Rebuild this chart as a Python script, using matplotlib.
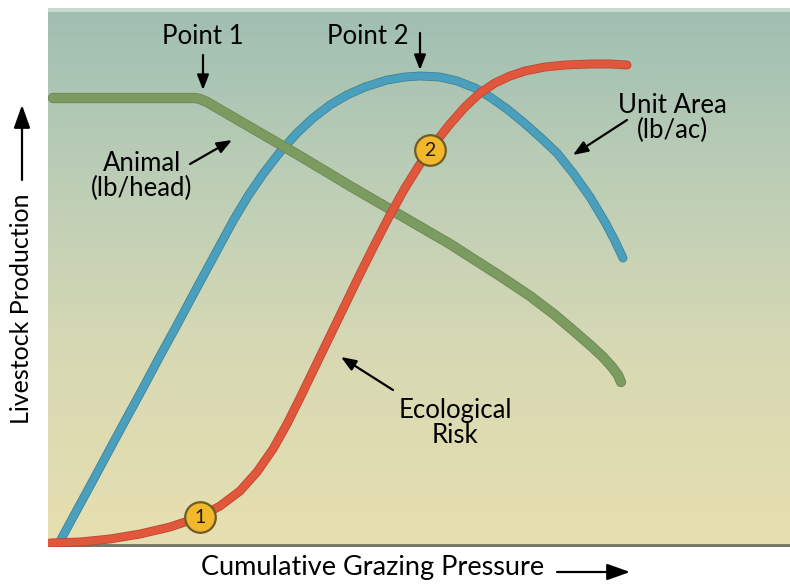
import numpy as np
import matplotlib
matplotlib.use("Agg")
import matplotlib.pyplot as plt
from matplotlib.colors import LinearSegmentedColormap

# ---- data (arbitrary units: x = cumulative grazing pressure, y = relative level) ----
animal_x = [5, 52, 102, 147, 152, 159, 202, 252, 302, 352, 402, 452, 482, 507, 527, 542, 555, 564, 570, 573]
animal_y = [449, 449, 449, 449, 448, 445, 420, 391, 361, 332, 303, 271, 251, 232, 215, 202, 190, 180, 172, 165]

unit_x = [10, 27, 42, 60, 77, 95, 112, 129, 145, 165, 185, 200, 215, 232, 249, 265, 282, 299, 317, 339,
          357, 372, 392, 409, 427, 442, 459, 475, 492, 509, 525, 542, 557, 566, 575]
unit_y = [2, 33.5, 61, 94.5, 126, 159, 191, 222, 252, 289, 326, 351, 373, 395, 414, 429, 442, 452, 460, 467,
          470, 471, 470, 466, 459, 450, 438, 425, 410, 394, 374, 350, 325, 308, 289]

risk_x = [2, 32, 62, 92, 122, 152, 172, 192, 209, 225, 239, 252, 267, 282, 297, 312, 327, 342, 357, 372,
          387, 402, 417, 432, 447, 462, 477, 497, 517, 542, 562, 579]
risk_y = [4, 5, 8, 13, 20, 30, 41, 56, 75, 98, 123, 149, 180, 211, 242, 273, 303, 332, 359, 383,
          404, 423, 440, 454, 464, 471, 476, 480, 482, 483, 483, 482]

point_labels = ["1", "2"]
point_x = [152, 382]
point_y = [30, 397]

FONT = ["Lato", "DejaVu Sans"]
plt.rcParams["font.family"] = FONT

W, H = 790, 586
fig = plt.figure(figsize=(W / 100, H / 100), dpi=100)
L, R, B, T = 48, 790, 547, 8
ax = fig.add_axes([L / W, (H - B) / H, (R - L) / W, (B - T) / H])
ax.set_xlim(0, R - L)
ax.set_ylim(0, B - T)
ax.axis("off")

# background gradient
cmap = LinearSegmentedColormap.from_list(
    "bg", [(0.0, "#e7dfb0"), (0.35, "#d8d9b3"), (0.65, "#bfcfb6"), (1.0, "#9fbfb2")])
grad = np.linspace(0, 1, 256).reshape(-1, 1)
ax.imshow(grad, extent=[0, R - L, 0, B - T], origin="lower", aspect="auto", cmap=cmap, zorder=0)
ax.axhline(1, color="#74786a", lw=3.5, zorder=1)
ax.axhline(B - T - 2, color="#c6dad0", lw=3, zorder=1)


def curve(x, y, color, edge, lw, z):
    ax.plot(x, y, color=edge, lw=lw + 1.2, solid_capstyle="round", solid_joinstyle="round", zorder=z)
    ax.plot(x, y, color=color, lw=lw, solid_capstyle="round", solid_joinstyle="round", zorder=z + 0.1)


curve(unit_x, unit_y, "#4a9fbd", "#3f8399", 5.2, 3)
curve(animal_x, animal_y, "#7c9b61", "#6a8752", 6.2, 4)
curve(risk_x, risk_y, "#e0573b", "#bd4632", 5.2, 5)

for lab, x, y in zip(point_labels, point_x, point_y):
    ax.plot([x], [y], "o", ms=22, mfc="#f2b82c", mec="#6e5c24", mew=1.6, zorder=7)
    ax.text(x, y - 0.5, lab, ha="center", va="center", fontsize=14, color="#1a1a1a", zorder=8)

fs = 18.5
arrow = dict(arrowstyle="-|>,head_length=0.9,head_width=0.35", color="black", lw=1.6,
             shrinkA=0, shrinkB=0)
big_arrow = dict(arrowstyle="-|>,head_length=1.4,head_width=0.5", color="black", lw=1.6,
                 shrinkA=0, shrinkB=0)


def F(px, py):
    return (px, H - py)


def txt(px, py, s, size=fs, **kw):
    ax.annotate(s, xy=F(px, py), xycoords="figure pixels", ha="center", va="center",
                fontsize=size, linespacing=1.0, **kw)


def arr(p0, p1, props=arrow):
    ax.annotate("", xy=F(*p1), xytext=F(*p0), xycoords="figure pixels",
                textcoords="figure pixels", arrowprops=props)


txt(203, 37, "Point 1")
arr((203, 55), (203, 90))
txt(368, 37, "Point 2")
arr((420, 33), (420, 70))
txt(142, 176, "Animal\n(lb/head)")
arr((190, 164), (232, 140))
txt(672, 118, "Unit Area\n(lb/ac)")
arr((627, 120), (573, 155))
txt(455, 423, "Ecological\nRisk")
arr((393, 390), (341, 357))

txt(22, 309, "Livestock Production", size=18, rotation=90)
arr((22, 180), (22, 105), big_arrow)
txt(373, 567, "Cumulative Grazing Pressure", size=19.5)
arr((557, 572), (630, 572), big_arrow)

fig.savefig("out.png", dpi=100, facecolor="white")
